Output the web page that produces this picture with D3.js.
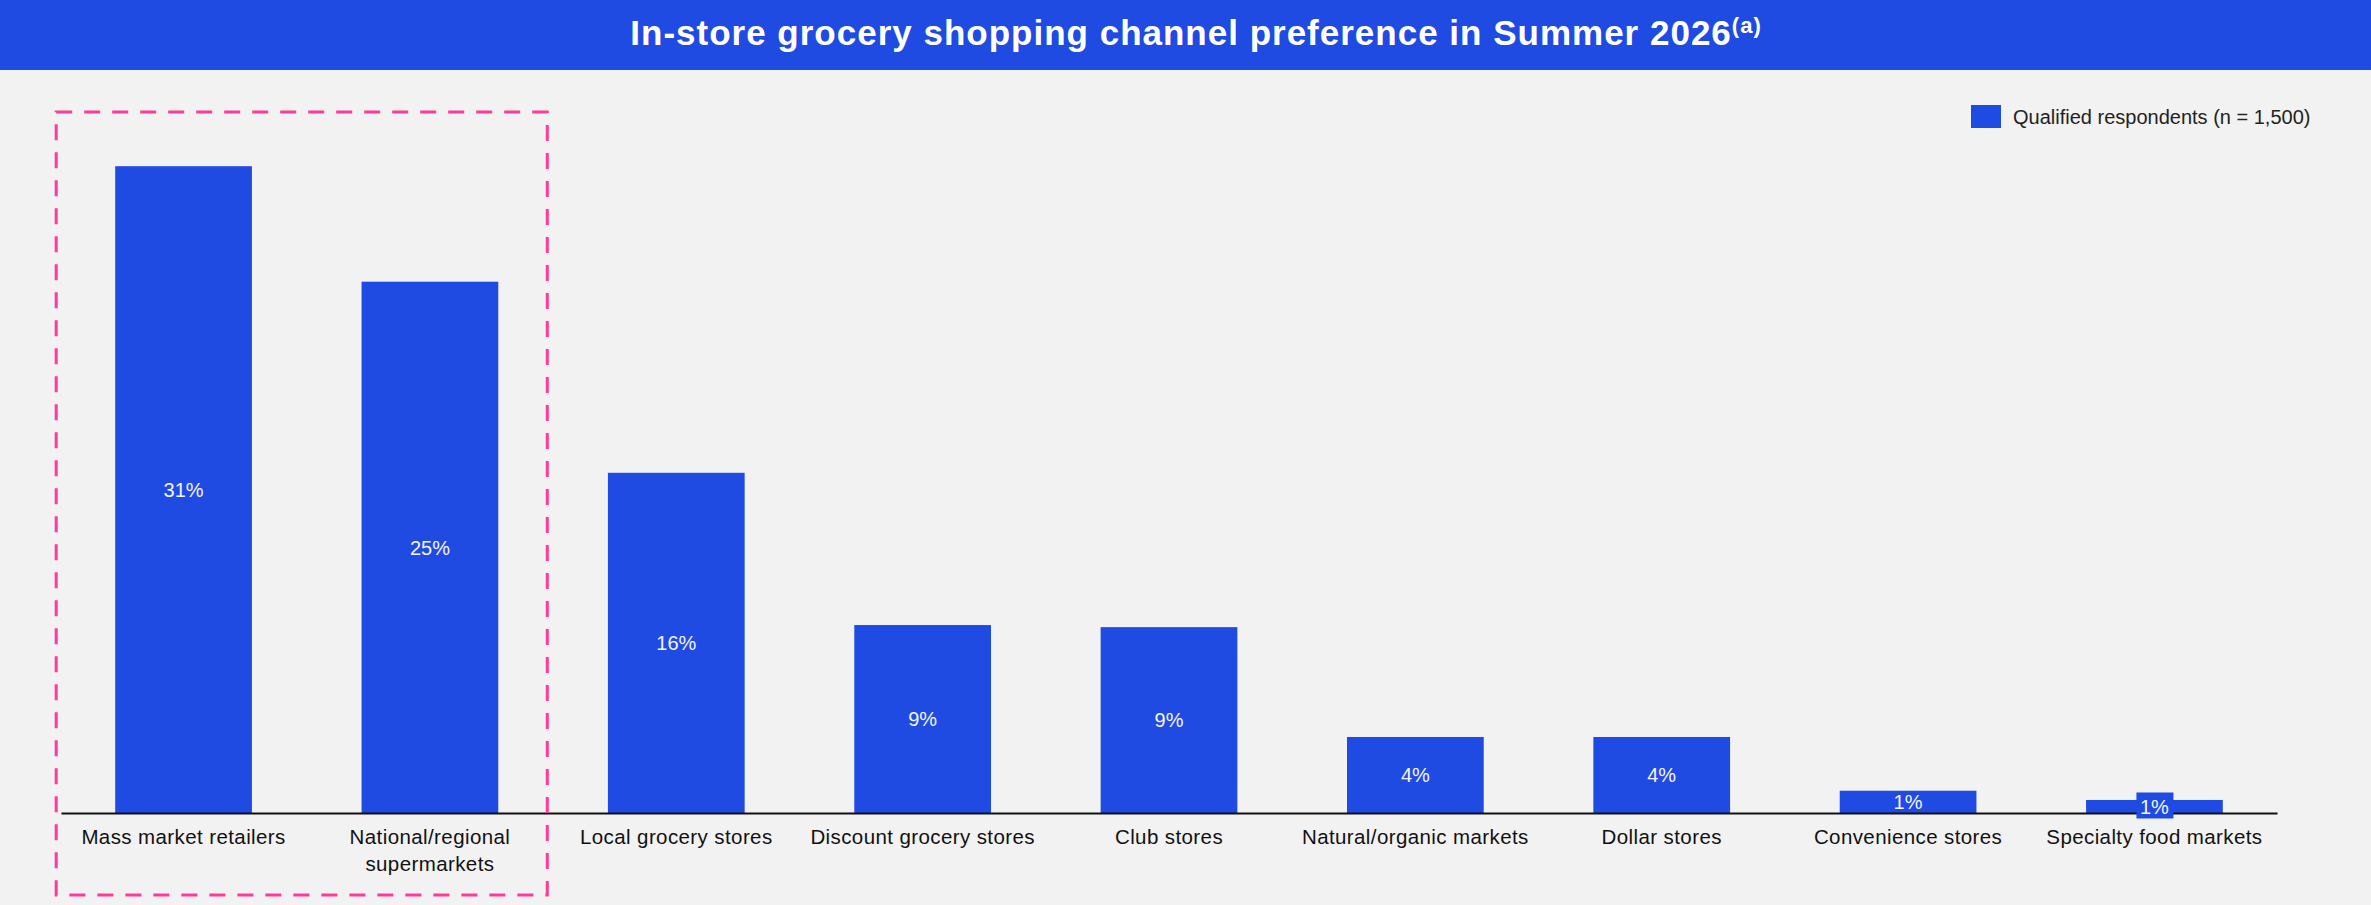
<!DOCTYPE html>
<html>
<head>
<meta charset="utf-8">
<script src="https://cdn.jsdelivr.net/npm/d3@7"></script>
<style>
  html, body { margin: 0; padding: 0; background: #f2f2f2; }
  svg { display: block; font-family: "Liberation Sans", Arial, sans-serif; }
</style>
</head>
<body>
<svg id="chart" width="2371" height="905"></svg>
<script>
// Share of qualified respondents by preferred in-store grocery channel (%)
const categories = [
  ["Mass market retailers"],
  ["National/regional", "supermarkets"],
  ["Local grocery stores"],
  ["Discount grocery stores"],
  ["Club stores"],
  ["Natural/organic markets"],
  ["Dollar stores"],
  ["Convenience stores"],
  ["Specialty food markets"]
];
const shares = [30.8, 25.3, 16.2, 8.95, 8.85, 3.62, 3.62, 1.06, 0.62];
const seriesName = "Qualified respondents (n = 1,500)";
const titleText = "In-store grocery shopping channel preference in Summer 2026";
const titleNote = "(a)";
const highlighted = [0, 1];   // channels grouped by the dashed outline

const W = 2371, H = 905;
const blue = "#1f4be2";
const pink = "#ff3b9a";

const svg = d3.select("#chart");

svg.append("rect").attr("width", W).attr("height", H).attr("fill", "#f2f2f2");

// Title banner
svg.append("rect").attr("x", 0).attr("y", 0).attr("width", W).attr("height", 70).attr("fill", blue);
const title = svg.append("text")
  .attr("x", 1196).attr("y", 45)
  .attr("text-anchor", "middle")
  .attr("fill", "#ffffff")
  .attr("font-weight", "bold")
  .attr("font-size", 35)
  .attr("letter-spacing", 1);
title.append("tspan").text(titleText);
title.append("tspan").attr("font-size", 22).attr("dy", -12).text(titleNote);

// Scales
const x = d3.scaleBand()
  .domain(d3.range(categories.length))
  .range([61, 2277])
  .paddingInner(0.445)
  .paddingOuter(0.22);

const baseY = 813;
const y = d3.scaleLinear().domain([0, 31]).range([baseY, baseY - 651]);

// Bars
svg.append("g").selectAll("rect")
  .data(shares)
  .join("rect")
  .attr("x", (d, i) => x(i))
  .attr("width", x.bandwidth())
  .attr("y", d => y(d))
  .attr("height", d => y(0) - y(d))
  .attr("fill", blue);

// Axis baseline
const axis = svg.append("g").attr("transform", `translate(0,${baseY})`)
  .call(d3.axisBottom(x).tickSize(0).tickFormat(""));
axis.select(".domain").attr("stroke", "#111").attr("stroke-width", 2);

// Category labels
const catLabels = svg.append("g").selectAll("text")
  .data(categories)
  .join("text")
  .attr("x", (d, i) => x(i) + x.bandwidth() / 2)
  .attr("y", 844)
  .attr("text-anchor", "middle")
  .attr("font-size", 20.5)
  .attr("letter-spacing", 0.4)
  .attr("fill", "#111");
catLabels.selectAll("tspan")
  .data(d => d)
  .join("tspan")
  .attr("x", function () { return d3.select(this.parentNode).attr("x"); })
  .attr("dy", (d, j) => j === 0 ? 0 : 27)
  .text(d => d);

// Value labels, centred in each bar; short bars get a backing chip
const fmt = d => d3.format(".0f")(d) + "%";
const valG = svg.append("g");
shares.forEach((d, i) => {
  const cx = x(i) + x.bandwidth() / 2;
  const cy = (y(d) + y(0)) / 2;
  const h = y(0) - y(d);
  if (h < 20) {
    valG.append("rect")
      .attr("x", cx - 18).attr("y", cy - 14)
      .attr("width", 37).attr("height", 26)
      .attr("fill", blue);
  }
  valG.append("text")
    .attr("x", cx).attr("y", cy)
    .attr("dy", "0.36em")
    .attr("text-anchor", "middle")
    .attr("font-size", 20)
    .attr("fill", "#f4f4ff")
    .text(fmt(d));
});

// Dashed outline around the highlighted channels
const x0 = x(highlighted[0]) - 59;
const x1 = x(highlighted[highlighted.length - 1]) + x.bandwidth() + 49;
svg.append("rect")
  .attr("x", x0).attr("y", 112)
  .attr("width", x1 - x0).attr("height", 895 - 112)
  .attr("fill", "none")
  .attr("stroke", pink)
  .attr("stroke-width", 3)
  .attr("stroke-dasharray", "16 12");

// Legend
const legend = svg.append("g").attr("transform", "translate(1971,105)");
legend.append("rect").attr("width", 30).attr("height", 23).attr("fill", blue);
legend.append("text")
  .attr("x", 42).attr("y", 19)
  .attr("font-size", 20)
  .attr("fill", "#222")
  .text(seriesName);
</script>
</body>
</html>
